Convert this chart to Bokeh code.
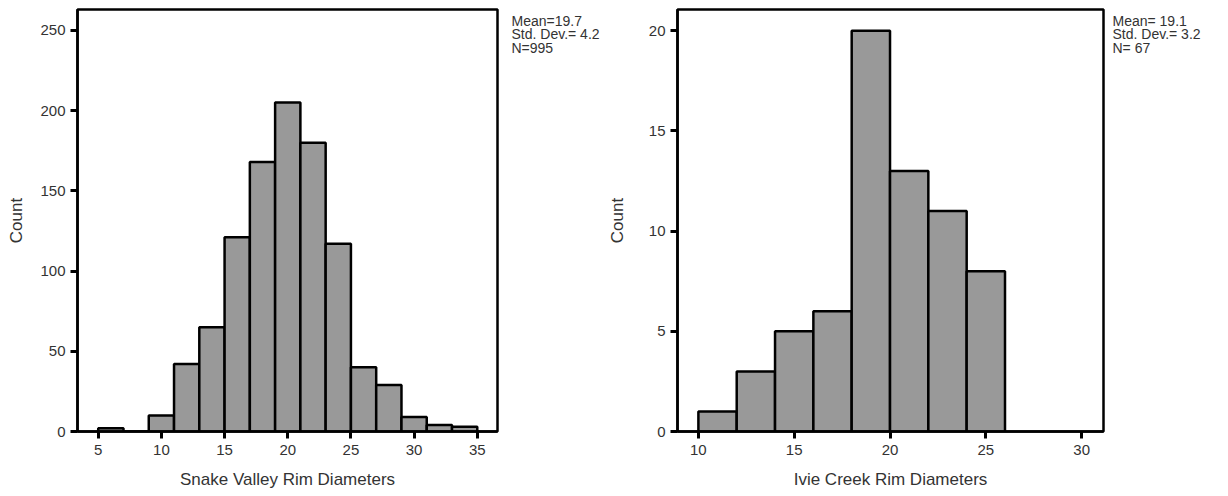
from bokeh.plotting import figure
from bokeh.models import Range1d, FixedTicker
from bokeh.layouts import row
from bokeh.core.properties import value
from bokeh.embed import file_html
from bokeh.resources import INLINE

# Snake Valley histogram (bin width 2)
sv_left_edges = [5, 7, 9, 11, 13, 15, 17, 19, 21, 23, 25, 27, 29, 31, 33]
sv_counts = [2, 0, 10, 42, 65, 121, 168, 205, 180, 117, 40, 29, 9, 4, 3]
sv_stats = ["Mean=19.7", "Std. Dev.= 4.2", "N=995"]
sv_xticks = [5, 10, 15, 20, 25, 30, 35]
sv_yticks = [0, 50, 100, 150, 200, 250]

# Ivie Creek histogram (bin width 2)
ic_left_edges = [10, 12, 14, 16, 18, 20, 22, 24]
ic_counts = [1, 3, 5, 6, 20, 13, 11, 8]
ic_stats = ["Mean= 19.1", "Std. Dev.= 3.2", "N= 67"]
ic_xticks = [10, 15, 20, 25, 30]
ic_yticks = [0, 5, 10, 15, 20]

BIN = 2
FONT = "Liberation Sans"
TXT = "#333333"
H = 496


def make(edges, counts, xticks, yticks, xlabel, xr, yr, width, bl, br, ylab_standoff):
    p = figure(width=width, height=H, output_backend="svg",
               toolbar_location=None, x_range=Range1d(*xr), y_range=Range1d(*yr),
               min_border_left=bl, min_border_right=br, min_border_top=9,
               min_border_bottom=H - 9 - 422)
    p.grid.visible = False
    p.outline_line_color = "black"
    p.outline_line_width = 2.5
    p.quad(left=edges, right=[e + BIN for e in edges], bottom=0, top=counts,
           fill_color="#999999", line_color="black", line_width=2.5)
    for ax in (p.xaxis[0], p.yaxis[0]):
        ax.axis_line_color = "black"
        ax.axis_line_width = 2.5
        ax.major_tick_line_color = "black"
        ax.major_tick_line_width = 3
        ax.major_tick_out = 7
        ax.major_tick_in = 0
        ax.minor_tick_line_color = None
        ax.major_label_text_font = FONT
        ax.major_label_text_font_size = "15px"
        ax.major_label_text_color = TXT
        ax.axis_label_text_font = FONT
        ax.axis_label_text_font_size = "17px"
        ax.axis_label_text_font_style = "normal"
        ax.axis_label_text_color = TXT
    p.xaxis[0].ticker = FixedTicker(ticks=xticks)
    p.yaxis[0].ticker = FixedTicker(ticks=yticks)
    p.xaxis[0].axis_label = xlabel
    p.yaxis[0].axis_label = "Count"
    p.xaxis[0].major_label_standoff = 6
    p.xaxis[0].axis_label_standoff = 12
    p.yaxis[0].major_label_standoff = 5
    p.yaxis[0].axis_label_standoff = ylab_standoff
    return p


def stats_panel(lines, width):
    s = figure(width=width, height=H, output_backend="svg",
               toolbar_location=None, x_range=Range1d(0, width),
               y_range=Range1d(H, 0), min_border=0)
    s.axis.visible = False
    s.grid.visible = False
    s.outline_line_color = None
    s.text(x=[4] * len(lines), y=[13 + 16 * i for i in range(len(lines))],
           text=lines, text_font=value(FONT), text_font_size="14px",
           text_color=TXT, text_baseline="middle", text_align="left")
    return s


p1 = make(sv_left_edges, sv_counts, sv_xticks, sv_yticks,
          "Snake Valley Rim Diameters", (3.36, 36.6), (0, 263), 507, 77, 10, 11)
s1 = stats_panel(sv_stats, 97)
p2 = make(ic_left_edges, ic_counts, ic_xticks, ic_yticks,
          "Ivie Creek Rim Diameters", (8.91, 31.14), (0, 21.06), 504, 71, 5, 19)
s2 = stats_panel(ic_stats, 120)

layout = row(p1, s1, p2, s2)
open("out.html", "w").write(file_html(layout, INLINE))
